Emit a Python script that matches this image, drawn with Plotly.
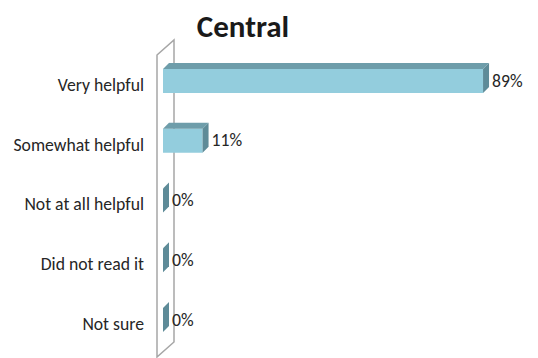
import plotly.graph_objects as go

categories = ["Very helpful", "Somewhat helpful", "Not at all helpful", "Did not read it", "Not sure"]
values = [89, 11, 0, 0, 0]
value_labels = ["89%", "11%", "0%", "0%", "0%"]

FONT = "Carlito, Calibri, Lato, 'Liberation Sans', sans-serif"
FRONT = "#93CDDD"
TOP = "#6E9DAA"
SIDE = "#5E8B98"

OFF = 8  # page body margin
W, H = 538 - OFF, 358 - OFF
L = 150 - OFF
plot_w = W - L
px_per_x = 3.596
x0 = -(163 - OFF - L) / px_per_x
x_range = [x0, x0 + plot_w / px_per_x]
px_per_y = 59.75
y_top = -(81 - OFF) / px_per_y
y_range = [y_top + H / px_per_y, y_top]

bw = 0.40
dx = 6 / px_per_x
dy = 6 / px_per_y
label_gap = 3 / px_per_x

pos = list(range(len(categories)))

fig = go.Figure()

# front faces
fig.add_trace(go.Bar(x=values, y=pos, orientation="h", width=bw,
                     marker=dict(color=FRONT, line=dict(width=0)),
                     hoverinfo="skip", showlegend=False))

# top faces and side faces
for v, p in zip(values, pos):
    yt = p - bw / 2
    yb = p + bw / 2
    if v > 0:
        fig.add_trace(go.Scatter(
            x=[0, v, v + dx, dx, 0], y=[yt, yt, yt - dy, yt - dy, yt],
            mode="lines", fill="toself", fillcolor=TOP, line=dict(width=0),
            hoverinfo="skip", showlegend=False))
    fig.add_trace(go.Scatter(
        x=[v, v + dx, v + dx, v, v], y=[yt, yt - dy, yb - dy, yb, yt],
        mode="lines", fill="toself", fillcolor=SIDE, line=dict(width=0),
        hoverinfo="skip", showlegend=False))

# data labels
fig.add_trace(go.Scatter(
    x=[v + dx + label_gap for v in values], y=[p + 0.02 for p in pos],
    mode="text", text=value_labels,
    textposition="middle right",
    textfont=dict(family=FONT, size=17.7, color="#262626"),
    hoverinfo="skip", showlegend=False, cliponaxis=False))

# side wall (decoration)
def px2paper(px, py):
    return (px - OFF - L) / plot_w, 1 - (py - OFF) / H

pts = [(157, 55), (174, 40), (174, 342), (157, 357)]
pp = [px2paper(a, b) for a, b in pts]
path = "M {} {} L {} {} L {} {} L {} {} Z".format(*[c for p_ in pp for c in p_])
fig.add_shape(type="path", path=path, xref="paper", yref="paper",
              line=dict(color="#A6A6A6", width=1.5), fillcolor="rgba(0,0,0,0)",
              layer="below")

fig.update_layout(
    width=W, height=H,
    margin=dict(l=L, r=0, t=0, b=0, autoexpand=False),
    paper_bgcolor="white", plot_bgcolor="white",
    barmode="overlay",
    title=dict(text="<b>Central</b>", x=(243 - OFF) / W, xanchor="center",
               y=1 - (26 - OFF) / H, yanchor="middle", yref="container",
               font=dict(family=FONT, size=31, color="#1a1a1a")),
    xaxis=dict(range=x_range, visible=False, showgrid=False, zeroline=False),
    yaxis=dict(range=y_range, tickvals=[p + 0.06 for p in pos], ticktext=categories,
               showgrid=False, zeroline=False, showline=False, ticks="",
               automargin=False, ticklabelstandoff=5,
               tickfont=dict(family=FONT, size=17.7, color="#262626")),
)

fig.write_html("out.html")
